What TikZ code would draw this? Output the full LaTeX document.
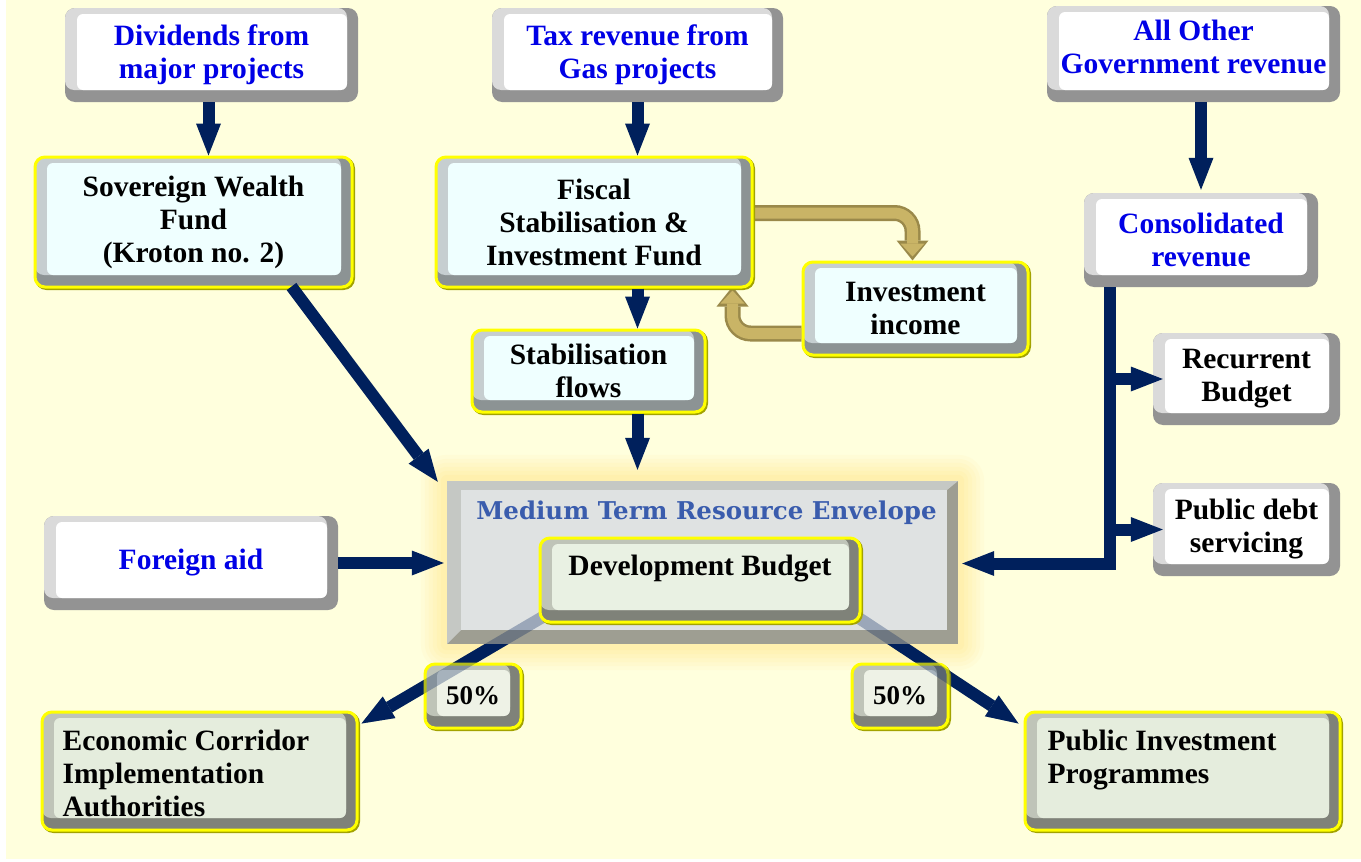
\documentclass[tikz,border=0pt]{standalone}
\usepackage{fontspec}
\setmainfont{Liberation Serif}
\newfontfamily\slabfont{DejaVu Serif}
\usetikzlibrary{arrows.meta}

\definecolor{bgyellow}{HTML}{FFFFDD}
\definecolor{navy}{HTML}{00205C}
\definecolor{goldfill}{HTML}{C9B466}
\definecolor{goldedge}{HTML}{9A894A}
\definecolor{srcblue}{HTML}{0000E6}
\definecolor{titleblue}{HTML}{3A5CAD}
\definecolor{rimyellow}{HTML}{FFFF00}
\definecolor{rimolive}{HTML}{A3A300}
\definecolor{glowyellow}{HTML}{FFEB99}
\definecolor{greylight}{HTML}{DADADA}
\definecolor{greydark}{HTML}{939393}
\definecolor{fundlight}{HTML}{C6CED0}
\definecolor{funddark}{HTML}{8C9394}
\definecolor{fundface}{HTML}{EFFFFF}
\definecolor{outlight}{HTML}{BFC4B8}
\definecolor{outdark}{HTML}{7F8279}
\definecolor{outface}{HTML}{E5EDDD}
\definecolor{devface}{HTML}{E9F1E3}
\definecolor{pctface}{HTML}{EEF2E6}
\definecolor{envlight}{HTML}{C5C8C4}
\definecolor{envdark}{HTML}{9E9E92}
\definecolor{envface}{HTML}{DFE2E2}

\pgfdeclarelayer{paper}
\pgfdeclarelayer{glow}
\pgfdeclarelayer{flow}
\pgfdeclarelayer{env}
\pgfdeclarelayer{veil}
\pgfsetlayers{paper,glow,flow,env,veil,main}

\newcommand\boxfont{\bfseries\fontsize{29.5}{33}\selectfont}
\newcommand\pctfont{\bfseries\fontsize{27}{30}\selectfont}
\newcommand\titlefont{\slabfont\bfseries\fontsize{24.5}{28}\selectfont}

\begin{document}
\begin{tikzpicture}[x=1pt, y=-1pt,
  dims/.style 2 args={minimum width=#1pt, minimum height=#2pt},
  bevel/.style n args={3}{rounded corners=10pt, fill=#2,
    path picture={
      \fill[#1, rounded corners=9pt] (path picture bounding box.north west) rectangle ([xshift=-11pt,yshift=12pt]path picture bounding box.south east);
      \fill[#3, rounded corners=6pt] ([xshift=12pt,yshift=-6pt]path picture bounding box.north west) rectangle ([xshift=-11pt,yshift=12pt]path picture bounding box.south east);
    }},
  box/.style={inner sep=0pt, align=center, font=\boxfont},
  rim/.style={draw=rimyellow, line width=3pt,
    preaction={draw=rimolive, line width=3pt, transform canvas={shift={(1.5pt,-1.5pt)}}}},
  srcbox/.style={box, bevel={greylight}{greydark}{white}, text=srcblue},
  sinkbox/.style={box, bevel={greylight}{greydark}{white}},
  fundbox/.style={box, rim, bevel={fundlight}{funddark}{fundface}},
  outbox/.style={box, rim, bevel={outlight}{outdark}{outface}},
  devbox/.style={box, rim, bevel={outlight}{outdark}{devface}},
  pctbox/.style={box, rim, bevel={outlight}{outdark}{pctface}, font=\pctfont},
  outlabel/.style={anchor=north west, align=left, inner sep=0pt, xshift=22pt, yshift=-19pt, font=\boxfont},
  envbox/.style={inner sep=0pt, fill=envdark,
    path picture={
      \fill[envlight] (path picture bounding box.north west) -- (path picture bounding box.north east)
        -- ([xshift=-11pt,yshift=-9pt]path picture bounding box.north east)
        -- ([xshift=14pt,yshift=-9pt]path picture bounding box.north west)
        -- ([xshift=14pt,yshift=14pt]path picture bounding box.south west)
        -- (path picture bounding box.south west) -- cycle;
      \fill[envface] ([xshift=14pt,yshift=-9pt]path picture bounding box.north west) rectangle ([xshift=-11pt,yshift=14pt]path picture bounding box.south east);
    }},
  navyarrow/.style={draw=navy, line width=12pt, -{Triangle[length=32pt, width=25pt, line width=0pt]}},
  goldouter/.style={draw=goldedge, line width=16pt, rounded corners=18pt, -{Triangle[length=20pt, width=32pt, line width=0pt]}},
  goldinner/.style={draw=goldfill, line width=11pt, rounded corners=18pt, shorten >=4pt, -{Triangle[length=13pt, width=24pt, line width=0pt]}}]

  \useasboundingbox (0,0) rectangle (1361,862);
  \begin{pgfonlayer}{paper}
    \fill[white] (0,0) rectangle (1361,862);
    \fill[bgyellow] (6,0) rectangle (1361,859);
  \end{pgfonlayer}

  % sources
  \node[srcbox, dims={293}{94}] (div) at (211.5,55) {Dividends from\\major projects};
  \node[srcbox, dims={291}{94}] (tax) at (637.5,55) {Tax revenue from\\Gas projects};
  \node[srcbox, dims={293}{96}, text depth=14pt] (other) at (1193.5,54) {All Other\\Government revenue};
  \node[srcbox, dims={294}{94}] (aid) at (191,563) {Foreign aid};

  % funds
  \node[fundbox, dims={317}{130}] (swf) at (193.5,222) {Sovereign Wealth\\Fund\\(Kroton no. 2)};
  \node[fundbox, dims={316}{130}] (fsif) at (594,222) {Fiscal\\Stabilisation \&\\Investment Fund};
  \node[fundbox, dims={225}{93}] (invinc) at (915.5,308.5) {Investment\\income};
  \node[fundbox, dims={233}{82}] (stab) at (588.5,371) {Stabilisation\\flows};

  % consolidated revenue side
  \node[srcbox, dims={234}{94}] (cons) at (1201,240) {Consolidated\\revenue};
  \node[sinkbox, dims={187}{92}] (recur) at (1246.5,379) {Recurrent\\Budget};
  \node[sinkbox, dims={187}{93}] (debt) at (1246.5,529.5) {Public debt\\servicing};

  % envelope
  \begin{pgfonlayer}{env}
    \node[envbox, dims={511}{163},
      label={[name=mtretitle, anchor=center, inner sep=0pt, xshift=4pt, yshift=-32pt, font=\titlefont, text=titleblue]north:{Medium Term Resource Envelope}}] (mtre) at (702.5,562.5) {};
    \node[pctbox, dims={96}{64}] (pctL) at (473,696) {50\%};
    \node[pctbox, dims={96}{64}] (pctR) at (900,696) {50\%};
  \end{pgfonlayer}
  \node[devbox, dims={320}{84}, text height=20pt, text depth=30pt] (dev) at (700,580) {Development Budget};

  % outcomes
  \node[outbox, dims={315}{118}, label={[outlabel]north west:{Economic Corridor\\Implementation\\Authorities}}] (eca) at (199.5,771) {};
  \node[outbox, dims={315}{118}, label={[outlabel, xshift=2pt]north west:{Public Investment\\Programmes}}] (pip) at (1182.5,771) {};

  \begin{pgfonlayer}{glow}
    \foreach \r/\op in {26/0.10, 22/0.12, 18/0.14, 14/0.16, 10/0.20, 6/0.25}
      \fill[glowyellow, opacity=\op, rounded corners=\r pt]
        ([shift={(-\r pt,\r pt)}]mtre.north west) rectangle ([shift={(\r pt,-\r pt)}]mtre.south east);
  \end{pgfonlayer}

  % flows into the envelope
  \draw[navyarrow] ([xshift=-3pt]div.south) -- ([xshift=-3pt]div.south |- swf.north);
  \draw[navyarrow] (tax.south) -- (tax.south |- fsif.north);
  \draw[navyarrow] (tax.south |- fsif.south) -- (tax.south |- stab.north);
  \draw[navyarrow] (tax.south |- stab.south) -- ([yshift=11pt]tax.south |- mtre.north);
  \draw[navyarrow] ([xshift=-62pt,yshift=2pt]swf.south east) -- ([xshift=-9pt,yshift=-1pt]mtre.north west);
  \draw[navyarrow] (aid.east) -- ([xshift=-3pt]aid.east -| mtre.west);
  \draw[navyarrow] (cons.north |- other.south) -- ([yshift=3pt]cons.north);

  % consolidated revenue bus
  \coordinate (bus) at ([xshift=26pt]cons.south west);
  \coordinate (busend) at (bus |- 0,563.5);
  \draw[navyarrow, line join=miter] (bus) -- (busend) -- ([xshift=4pt]busend -| mtre.east);
  \draw[navyarrow] (bus |- recur.west) -- ([xshift=10pt]recur.west);
  \draw[navyarrow] (bus |- debt.west) -- ([xshift=10pt]debt.west);

  % investment loop and split of the development budget
  \coordinate (splitL) at ([xshift=5pt,yshift=7pt]dev.south west);
  \coordinate (splitR) at ([xshift=-5pt,yshift=7pt]dev.south east);
  \begin{pgfonlayer}{flow}
    \draw[goldouter] ([yshift=9pt]fsif.east) -| ([xshift=-3pt]invinc.north);
    \draw[goldinner] ([yshift=9pt]fsif.east) -| ([xshift=-3pt]invinc.north);
    \draw[goldouter] ([yshift=-25pt]invinc.west) -| ([xshift=-21pt,yshift=2pt]fsif.south east);
    \draw[goldinner] ([yshift=-25pt]invinc.west) -| ([xshift=-21pt,yshift=2pt]fsif.south east);
    \draw[navyarrow] (splitL) -- ([xshift=3pt,yshift=-13pt]eca.north east);
    \draw[navyarrow] (splitR) -- ([xshift=-5pt,yshift=-13pt]pip.north west);
  \end{pgfonlayer}
  \begin{pgfonlayer}{veil}
    \draw[navyarrow, opacity=0.3] (splitL) -- ([xshift=3pt,yshift=-13pt]eca.north east);
    \draw[navyarrow, opacity=0.3] (splitR) -- ([xshift=-5pt,yshift=-13pt]pip.north west);
  \end{pgfonlayer}
\end{tikzpicture}
\end{document}
